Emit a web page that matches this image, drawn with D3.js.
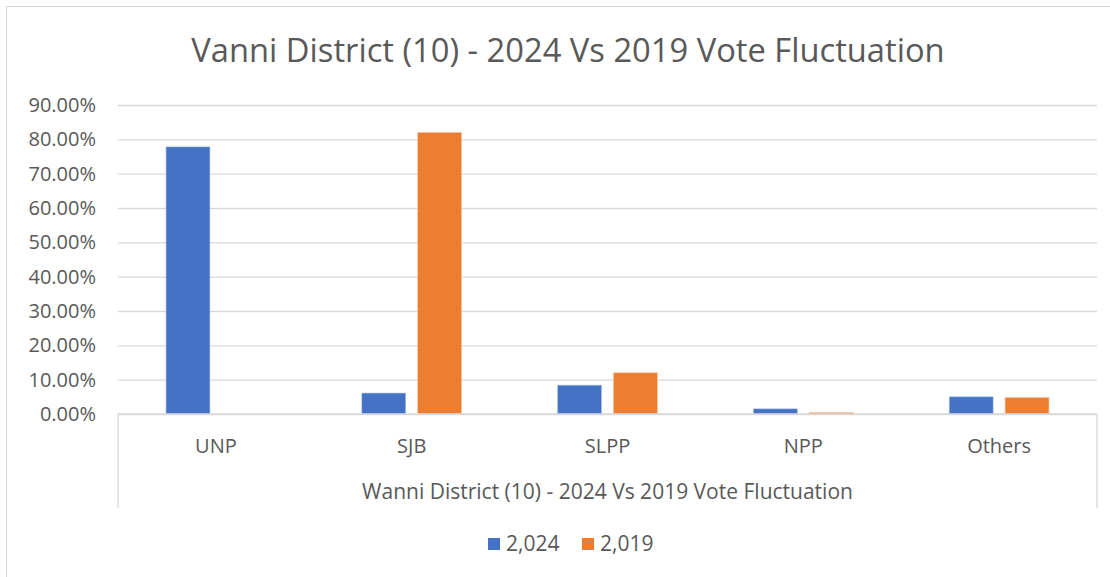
<!DOCTYPE html>
<html>
<head>
<meta charset="utf-8">
<script src="https://cdn.jsdelivr.net/npm/d3@7"></script>
<style>
  html, body { margin: 0; padding: 0; background: #fff; }
  svg { display: block; font-family: "Open Sans", sans-serif; }
</style>
</head>
<body>
<div id="chart"></div>
<script>
(function () {
  "use strict";

  const categories = ["UNP", "SJB", "SLPP", "NPP", "Others"];
  const seriesNames = ["2,024", "2,019"];
  const values2024 = [0.778, 0.061, 0.084, 0.015, 0.050];
  const values2019 = [0.0, 0.820, 0.120, 0.004, 0.048];
  const yTicks = [0, 0.1, 0.2, 0.3, 0.4, 0.5, 0.6, 0.7, 0.8, 0.9];
  const colors = ["#4472C4", "#ED7D31"];
  const title = "Vanni District (10) - 2024 Vs 2019 Vote Fluctuation";
  const axisTitle = "Wanni District (10) - 2024 Vs 2019 Vote Fluctuation";

  const width = 1110;
  const height = 577;
  const margin = { top: 105, right: 13, bottom: 163, left: 118 };
  const textColor = "#595959";

  const svg = d3.select("#chart").append("svg").attr("width", width).attr("height", height);

  // chart frame
  svg.append("rect")
    .attr("x", 6.5).attr("y", 6.5)
    .attr("width", width + 10).attr("height", height + 10)
    .attr("fill", "#fff")
    .attr("stroke", "#d9d9d9");

  svg.append("text")
    .attr("x", 568).attr("y", 62)
    .attr("text-anchor", "middle")
    .attr("font-size", 32.7)
    .attr("fill", textColor)
    .text(title);

  const x = d3.scaleBand().domain(categories).range([margin.left, width - margin.right]);
  const xInner = d3.scaleBand().domain(seriesNames).range([0, x.bandwidth()]).paddingInner(0.214).paddingOuter(0.86);
  const y = d3.scaleLinear().domain([0, 0.9]).range([height - margin.bottom, margin.top]);

  // gridlines + y labels
  svg.append("g")
    .attr("transform", "translate(" + margin.left + ",0)")
    .call(d3.axisLeft(y).tickValues(yTicks).tickSize(-(width - margin.left - margin.right)).tickFormat(d3.format(".2%")).tickPadding(22))
    .call(function (g) {
      g.select(".domain").remove();
      g.selectAll("line").attr("stroke", "#d9d9d9").attr("stroke-width", 1.3);
      g.selectAll("text").attr("fill", textColor).attr("font-size", 20).attr("font-family", "'Open Sans', sans-serif");
    });

  // bars
  const groups = svg.append("g").selectAll("g")
    .data(categories)
    .enter()
    .append("g")
    .attr("transform", function (d) { return "translate(" + x(d) + ",0)"; });

  groups.selectAll("rect")
    .data(function (_, i) { return [values2024[i], values2019[i]]; })
    .enter()
    .append("rect")
    .attr("x", function (_, j) { return xInner(seriesNames[j]); })
    .attr("width", xInner.bandwidth())
    .attr("y", function (d) { return y(d); })
    .attr("height", function (d) { return y(0) - y(d); })
    .attr("fill", function (_, j) { return colors[j]; })
    .attr("stroke", function (_, j) { return j === 0 ? "#a9c0e8" : "#f6c6a4"; })
    .attr("stroke-width", 0.6);

  // category axis box (multi-level)
  const y0 = y(0);
  const boxBottom = 508;
  svg.append("line")
    .attr("x1", margin.left).attr("x2", width - margin.right)
    .attr("y1", y0).attr("y2", y0)
    .attr("stroke", "#d9d9d9").attr("stroke-width", 1.3);
  [margin.left, width - margin.right].forEach(function (xv) {
    svg.append("line")
      .attr("x1", xv).attr("x2", xv)
      .attr("y1", y0).attr("y2", boxBottom)
      .attr("stroke", "#d9d9d9").attr("stroke-width", 1.3);
  });

  svg.append("g").selectAll("text")
    .data(categories)
    .enter()
    .append("text")
    .attr("x", function (d) { return x(d) + x.bandwidth() / 2; })
    .attr("y", 453)
    .attr("text-anchor", "middle")
    .attr("font-size", 20)
    .attr("fill", textColor)
    .text(function (d) { return d; });

  svg.append("text")
    .attr("x", (margin.left + width - margin.right) / 2)
    .attr("y", 499)
    .attr("text-anchor", "middle")
    .attr("font-size", 21)
    .attr("fill", textColor)
    .text(axisTitle);

  // legend
  const legend = svg.append("g");
  const legendX = [488, 582];
  seriesNames.forEach(function (name, i) {
    legend.append("rect")
      .attr("x", legendX[i]).attr("y", 538)
      .attr("width", 12).attr("height", 12)
      .attr("fill", colors[i]);
    legend.append("text")
      .attr("x", legendX[i] + 18).attr("y", 551)
      .attr("font-size", 21)
      .attr("fill", textColor)
      .text(name);
  });
})();
</script>
</body>
</html>
